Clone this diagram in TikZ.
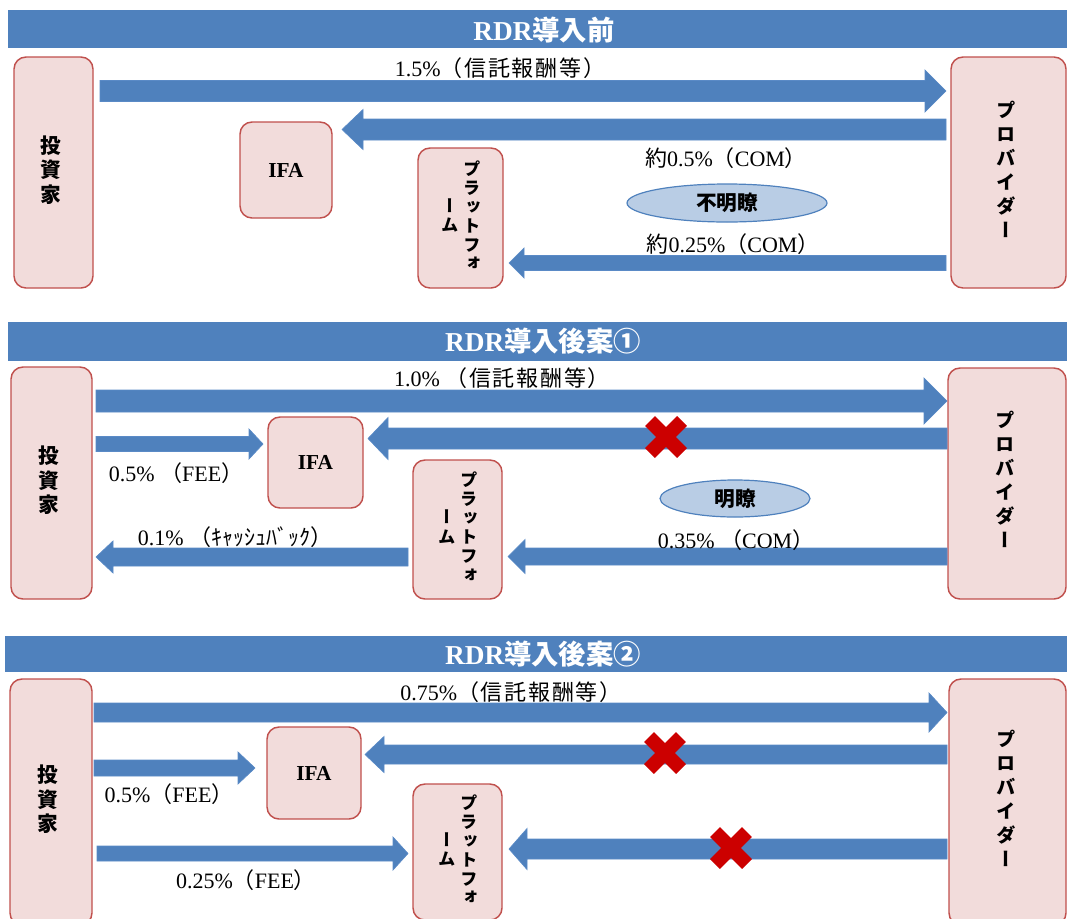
\documentclass[tikz,border=0pt]{standalone}
\usepackage{fontspec}
\usetikzlibrary{fit,shapes.geometric}
\setmainfont{Liberation Serif}
\newfontfamily\cjk{Noto Sans CJK JP}
\newfontfamily\cjkl[LetterSpace=8]{Noto Sans CJK JP}
\newfontfamily\cjkv[RawFeature=+vert]{Noto Sans CJK JP}
\definecolor{barblue}{HTML}{4F81BD}
\definecolor{arrowedge}{HTML}{5A8AC6}
\definecolor{boxpink}{HTML}{F2DCDB}
\definecolor{boxred}{HTML}{C0504D}
\definecolor{ellfill}{HTML}{B9CDE5}
\definecolor{xred}{HTML}{CC0000}
\newcommand\vstack[1]{\begin{tabular}{@{}c@{}}#1\end{tabular}}
\newcommand\blockarrow[6]{\filldraw[barrow] (#1,#4-#5) -- (#2,#4-#5) -- (#2,#4-#6) -- (#3,#4) -- (#2,#4+#6) -- (#2,#4+#5) -- (#1,#4+#5) -- cycle;}
\newcommand\redx[2]{\draw[xmark] (#1-16,#2-16) -- (#1+16,#2+16) (#1-16,#2+16) -- (#1+16,#2-16);}
\newcommand\invtext{{\cjkv\bfseries\fontsize{15.5pt}{17pt}\selectfont\vstack{投\\資\\家}}}
\newcommand\provtext{{\cjkv\bfseries\fontsize{14.5pt}{18pt}\selectfont\vstack{プ\\ロ\\バ\\イ\\ダ\\ー}}}
\newcommand\plattext{{\cjkv\bfseries\fontsize{13pt}{14pt}\selectfont\vstack{ー\\ム}\hspace{3pt}\vstack{プ\\ラ\\ッ\\ト\\フ\\ォ}}}
\begin{document}
\begin{tikzpicture}[x=0.75pt,y=-0.75pt,
  box/.style={draw=boxred, fill=boxpink, line width=1.1pt, rounded corners=9pt, inner sep=0pt},
  vt/.style={inner sep=0pt},
  bar/.style={fill=barblue, draw=none, inner sep=0pt},
  ttl/.style={text=white, inner sep=0pt, font=\fontsize{20.5pt}{24pt}\selectfont\bfseries},
  lbl/.style={inner sep=0pt, font=\fontsize{16.5pt}{18pt}\selectfont},
  ell/.style={ellipse, draw=barblue, fill=ellfill, line width=0.9pt, inner sep=0pt},
  elltext/.style={inner sep=0pt, font=\cjk\bfseries\fontsize{15.5pt}{18pt}\selectfont},
  barrow/.style={fill=barblue, draw=arrowedge, line width=0.5pt},
  xmark/.style={draw=xred, line width=10.5pt, line cap=butt},
  ifa/.style={inner sep=0pt, font=\fontsize{16pt}{18pt}\selectfont\bfseries}
]
\useasboundingbox (0,0) rectangle (1067,918);
\clip (0,0) rectangle (1067,918);

% ================= Panel 1 =================
\node[bar, fit={(8,10) (1067,48)}] (bar1) {};
\node[ttl] (t1) at (544,30) {RDR{\cjk 導入前}};

\node[box, fit={(14,57) (93,288)}] (inv1) {};
\node[vt] (inv1t) at (51,172.5) {\invtext};
\node[box, fit={(951,57) (1066,288)}] (prov1) {};
\node[vt] (prov1t) at (1006,172.5) {\provtext};
\node[box, fit={(240,122) (332,218)}] (ifa1) {};
\node[ifa] (ifa1t) at (ifa1.center) {IFA};
\node[box, fit={(418,148) (503,288)}] (plat1) {};
\node[vt] (plat1t) at (461,218) {\plattext};

\blockarrow{100}{925}{946}{91}{10.5}{21}
\blockarrow{946}{363}{342}{129.5}{10.5}{20}
\blockarrow{946}{524}{509}{263}{7.5}{15}

\node[lbl] (l11) at (500,68) {1.5\%{\cjkl （信託報酬等）}};
\node[lbl] (l12) at (726,158) {{\cjk 約}0.5\%{\cjk （}COM{\cjk ）}};
\node[ell, minimum width=150pt, minimum height=28.5pt] (e1) at (727,203) {};
\node[elltext] (e1t) at (e1.center) {不明瞭};
\node[lbl] (l13) at (733,244) {{\cjk 約}0.25\%{\cjk （}COM{\cjk ）}};

% ================= Panel 2 =================
\node[bar, fit={(8,322) (1067,361)}] (bar2) {};
\node[ttl] (t2) at (543,341) {RDR{\cjk 導入後案①}};

\node[box, fit={(11,367) (92,599)}] (inv2) {};
\node[vt] (inv2t) at (49,483) {\invtext};
\node[box, fit={(948,368) (1066,599)}] (prov2) {};
\node[vt] (prov2t) at (1005,483) {\provtext};
\node[box, fit={(268,417) (363,508)}] (ifa2) {};
\node[ifa] (ifa2t) at (ifa2.center) {IFA};
\node[box, fit={(413,460) (502,599)}] (plat2) {};
\node[vt] (plat2t) at (458,529.5) {\plattext};

\blockarrow{96}{924}{947}{401}{11}{23}
\blockarrow{947}{388}{368}{438.5}{10.5}{21}
\blockarrow{96}{249}{263}{444}{7.5}{15}
\blockarrow{408}{113}{96}{557}{9}{16}
\blockarrow{947}{525}{508}{556.5}{8.5}{17}
\redx{666}{437}

\node[lbl] (l21) at (502,378) {1.0\% {\cjkl （信託報酬等）}};
\node[lbl] (l22) at (176,473) {0.5\% {\cjk （}FEE{\cjk ）}};
\node[lbl] (l23) at (235,537) {0.1\% {\cjk （ｷｬｯｼｭﾊﾞｯｸ）}};
\node[ell, minimum width=112.5pt, minimum height=27.75pt] (e2) at (735,498.5) {};
\node[elltext] (e2t) at (e2.center) {明瞭};
\node[lbl] (l24) at (736,540) {0.35\% {\cjk （}COM{\cjk ）}};

% ================= Panel 3 =================
\node[bar, fit={(5,636) (1067,672)}] (bar3) {};
\node[ttl] (t3) at (543,654) {RDR{\cjk 導入後案②}};

\node[box, fit={(10,679) (92,925)}] (inv3) {};
\node[vt] (inv3t) at (48,802) {\invtext};
\node[box, fit={(949,679) (1066,925)}] (prov3) {};
\node[vt] (prov3t) at (1006,802) {\provtext};
\node[box, fit={(267,727) (361,819)}] (ifa3) {};
\node[ifa] (ifa3t) at (ifa3.center) {IFA};
\node[box, fit={(413,784) (502,920)}] (plat3) {};
\node[vt] (plat3t) at (458,852) {\plattext};

\blockarrow{94}{929}{947}{712.5}{9.5}{19.5}
\blockarrow{947}{384}{365}{754.5}{9.5}{18}
\blockarrow{94}{238}{255}{768}{8}{16}
\blockarrow{97}{393}{408}{853.5}{7.5}{16.5}
\blockarrow{947}{527}{509}{849}{10}{20.5}
\redx{665}{753}
\redx{731}{848}

\node[lbl] (l31) at (511,692) {0.75\%{\cjkl （信託報酬等）}};
\node[lbl] (l32) at (169,794) {0.5\%{\cjk （}FEE{\cjk ）}};
\node[lbl] (l33) at (246,880) {0.25\%{\cjk （}FEE{\cjk ）}};
\end{tikzpicture}
\end{document}
